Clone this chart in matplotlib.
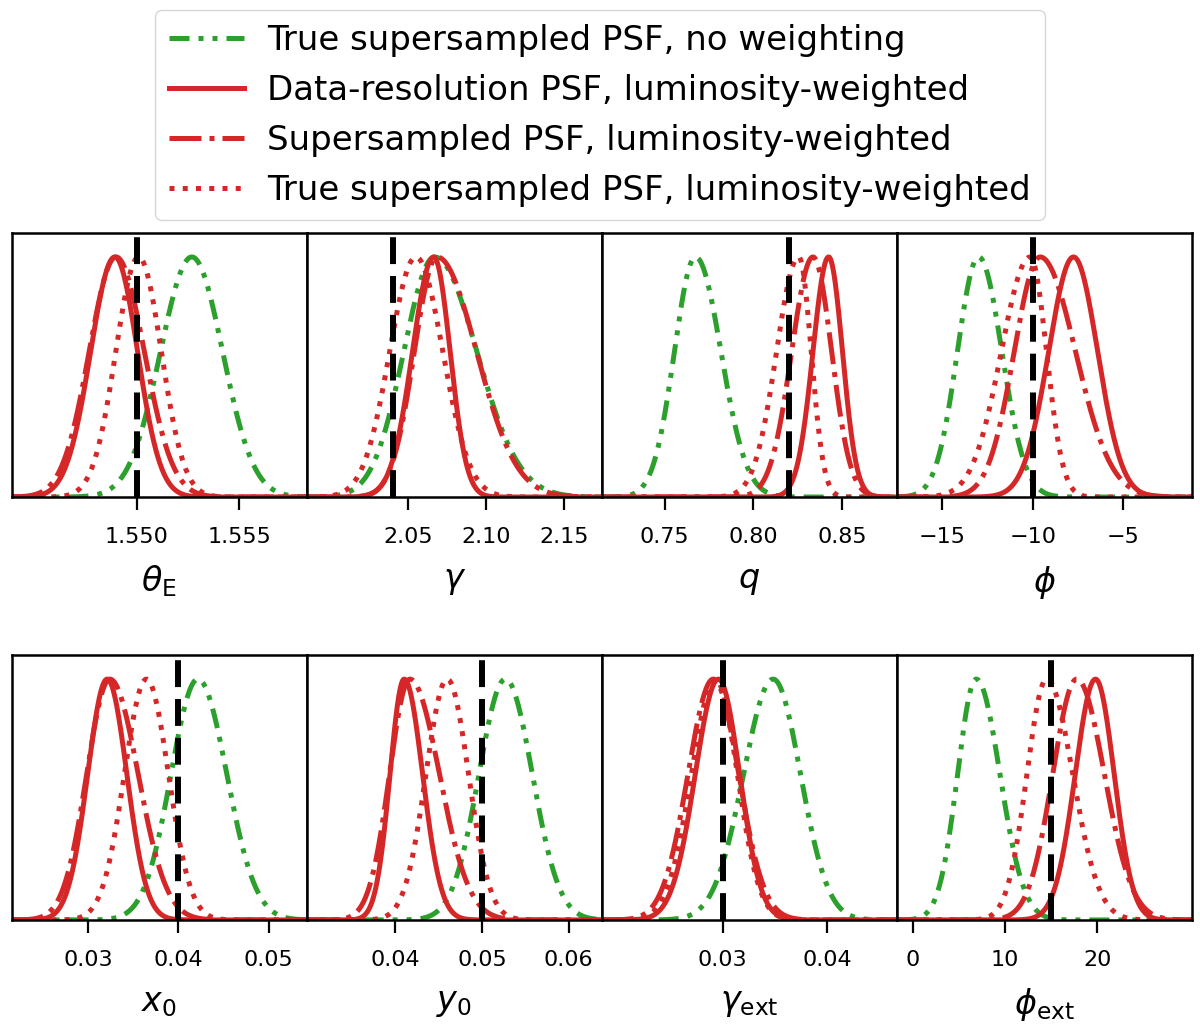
import numpy as np
import matplotlib
matplotlib.use("Agg")
import matplotlib.pyplot as plt

# ---------------- data ----------------
param_labels = [r"$\theta_{\rm E}$", r"$\gamma$", r"$q$", r"$\phi$",
                r"$x_0$", r"$y_0$", r"$\gamma_{\rm ext}$", r"$\phi_{\rm ext}$"]
truths = [1.550, 2.04, 0.82, -10.0, 0.04, 0.05, 0.03, 15.0]
xlims = [(1.5439, 1.5583), (1.985, 2.174), (0.7146, 0.8807), (-17.49, -1.22),
         (0.0215, 0.0542), (0.0298, 0.0638), (0.0184, 0.0467), (-1.75, 30.26)]
xticks = [[1.550, 1.555], [2.05, 2.10, 2.15], [0.75, 0.80, 0.85], [-15, -10, -5],
          [0.03, 0.04, 0.05], [0.04, 0.05, 0.06], [0.03, 0.04], [0, 10, 20]]
xticklabels = [["1.550", "1.555"], ["2.05", "2.10", "2.15"], ["0.75", "0.80", "0.85"],
               ["\u221215", "\u221210", "\u22125"], ["0.03", "0.04", "0.05"],
               ["0.04", "0.05", "0.06"], ["0.03", "0.04"], ["0", "10", "20"]]

# posterior summaries: mode, lower width, upper width (per parameter)
green_mode = [1.5527, 2.067, 0.7674, -12.98, 0.04215, 0.0527, 0.03484, 6.86]
green_lo   = [0.00153, 0.0198, 0.0119, 1.17, 0.00297, 0.00304, 0.00284, 2.02]
green_hi   = [0.00150, 0.0270, 0.0143, 1.28, 0.00320, 0.00310, 0.00262, 2.57]

solid_mode = [1.54894, 2.0664, 0.8423, -7.75, 0.0321, 0.04104, 0.02959, 19.8]
solid_lo   = [0.00118, 0.0136, 0.0088, 1.37, 0.00216, 0.00163, 0.00222, 2.20]
solid_hi   = [0.00111, 0.0105, 0.0078, 1.33, 0.00218, 0.00212, 0.00203, 2.02]

dashdot_mode = [1.5490, 2.0685, 0.8335, -9.59, 0.0324, 0.0417, 0.0291, 17.76]
dashdot_lo   = [0.00131, 0.0145, 0.0120, 1.43, 0.00257, 0.00235, 0.00243, 2.60]
dashdot_hi   = [0.00138, 0.0253, 0.0105, 1.95, 0.00313, 0.00340, 0.00243, 3.00]

dotted_mode = [1.5501, 2.055, 0.8255, -10.14, 0.03645, 0.0460, 0.0293, 14.5]
dotted_lo   = [0.00111, 0.0168, 0.0125, 1.59, 0.00244, 0.00245, 0.00230, 2.14]
dotted_hi   = [0.00111, 0.0172, 0.0070, 0.90, 0.00244, 0.00245, 0.00210, 2.82]

series_labels = ["True supersampled PSF, no weighting",
                 "Data-resolution PSF, luminosity-weighted",
                 "Supersampled PSF, luminosity-weighted",
                 "True supersampled PSF, luminosity-weighted"]

GREEN = "#2ca02c"
RED = "#d62728"
LW = 3.6

series = [
    (green_mode, green_lo, green_hi, dict(color=GREEN, ls=(0, (4, 1.8, 1, 1.8, 1, 1.8)))),
    (solid_mode, solid_lo, solid_hi, dict(color=RED, ls="-")),
    (dashdot_mode, dashdot_lo, dashdot_hi, dict(color=RED, ls="-.")),
    (dotted_mode, dotted_lo, dotted_hi, dict(color=RED, ls=":")),
]


def split_normal(x, m, lo, hi):
    s = np.where(x < m, lo, hi)
    return np.exp(-0.5 * ((x - m) / s) ** 2)


fig = plt.figure(figsize=(12, 10.34), dpi=100)

left, right = 0.0096, 0.9933
w = (right - left) / 4
rows = [(0.5193, 0.7747), (0.1103, 0.3665)]

handles = []
for i in range(8):
    r, c = divmod(i, 4)
    b, t = rows[r]
    ax = fig.add_axes([left + c * w, b, w, t - b])
    x = np.linspace(xlims[i][0], xlims[i][1], 800)
    for k, (mode, lo, hi, sty) in enumerate(series):
        y = split_normal(x, mode[i], lo[i], hi[i])
        ln, = ax.plot(x, y, lw=LW, label=series_labels[k], **sty)
        if i == 0:
            handles.append(ln)
    ax.axvline(truths[i], color="black", lw=4.3, ls=(0, (4.5, 2)), zorder=5)
    ax.set_xlim(*xlims[i])
    ax.set_ylim(0, 1.1)
    ax.set_yticks([])
    ax.set_xticks(xticks[i])
    ax.set_xticklabels(xticklabels[i])
    ax.tick_params(axis="x", labelsize=16, length=9.5, width=1.6, pad=12)
    for sp in ax.spines.values():
        sp.set_linewidth(1.8)
    ax.set_xlabel(param_labels[i], fontsize=24, labelpad=12)

fig.legend(handles=handles, loc="upper center", bbox_to_anchor=(0.5, 1 - 10 / 1034),
           fontsize=24.5, labelspacing=0.5, handlelength=2.2, handletextpad=0.7,
           borderaxespad=0, borderpad=0.4)

fig.savefig("out.png", dpi=100)
